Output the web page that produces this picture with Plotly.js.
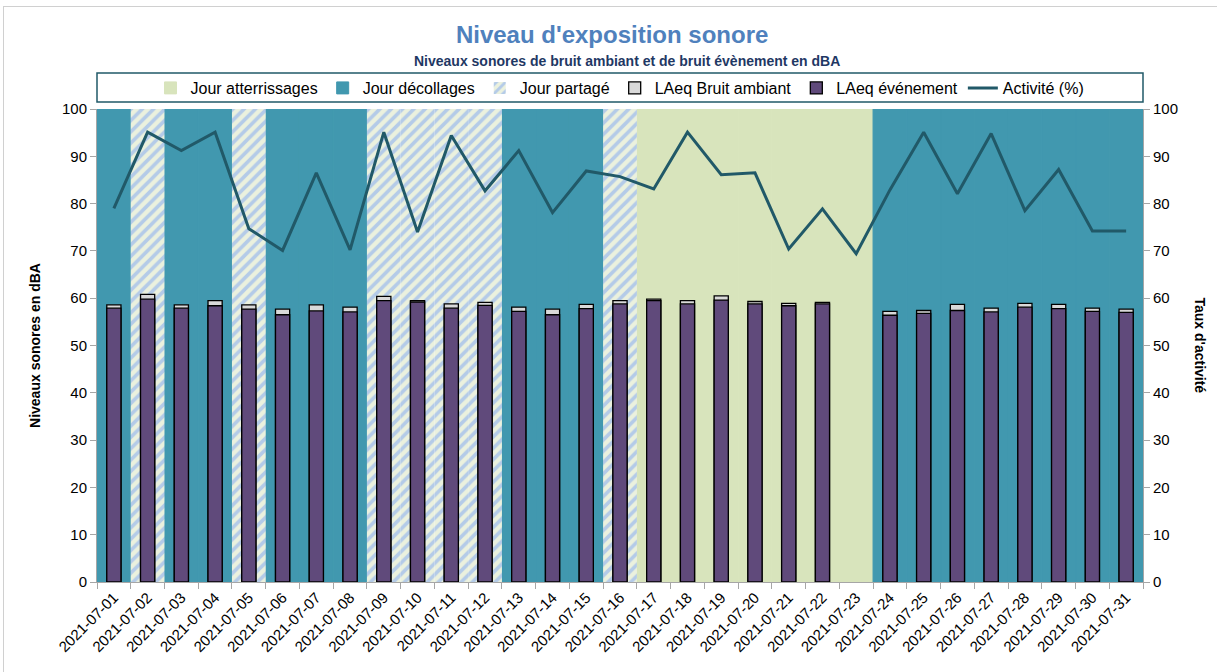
<!DOCTYPE html>
<html>
<head>
<meta charset="utf-8">
<script src="https://cdn.plot.ly/plotly-3.0.1.min.js"></script>
<style>
  html, body { margin: 0; padding: 0; background: #fff; }
  #chart { width: 1217px; height: 672px; }
  #frame { position: absolute; left: 3px; top: 6px; width: 1230px; height: 700px;
           border: 1px solid #d0d0d0; pointer-events: none; }
</style>
</head>
<body>
<div id="chart"></div>
<div id="frame"></div>
<script>
// ---- Data ----
const days = ["2021-07-01","2021-07-02","2021-07-03","2021-07-04","2021-07-05","2021-07-06","2021-07-07","2021-07-08",
  "2021-07-09","2021-07-10","2021-07-11","2021-07-12","2021-07-13","2021-07-14","2021-07-15","2021-07-16",
  "2021-07-17","2021-07-18","2021-07-19","2021-07-20","2021-07-21","2021-07-22","2021-07-23","2021-07-24",
  "2021-07-25","2021-07-26","2021-07-27","2021-07-28","2021-07-29","2021-07-30","2021-07-31"];
// D = Jour décollages, P = Jour partagé, A = Jour atterrissages
const dayType = ["D","P","D","D","P","D","D","D","P","P","P","P","D","D","D","P",
  "A","A","A","A","A","A","A","D","D","D","D","D","D","D","D"];
const laeqAmbiant = [58.6,60.8,58.6,59.5,58.6,57.7,58.6,58.1,60.4,59.5,58.8,59.1,58.1,57.7,58.7,59.5,
  59.8,59.5,60.5,59.3,58.9,59.1,null,57.2,57.4,58.7,57.9,58.9,58.7,57.9,57.7];
const laeqEvenement = [57.9,59.8,57.9,58.4,57.7,56.5,57.3,57.1,59.5,59.2,57.9,58.5,57.2,56.5,57.8,58.8,
  59.5,58.8,59.6,58.8,58.4,58.8,null,56.4,56.8,57.4,57.1,58.1,57.8,57.2,57.0];
const activite = [79.0,95.1,91.2,95.1,74.7,70.1,86.5,70.2,95.1,74.0,94.4,82.7,91.2,78.1,86.9,85.7,
  83.1,95.1,86.1,86.5,70.4,78.9,69.4,82.9,95.1,82.1,94.8,78.5,87.2,74.2,74.2];
const yMax = 100;

// ---- Styles ----
const C_TEAL = "#4198AF", C_GREEN = "#D8E4BC", C_PURPLE = "#604A7B", C_GREY = "#D9D9D9", C_LINE = "#215968";
const C_HATCH_BG = "#EBF1DE", C_HATCH_FG = "#B4CBE8";
const FONT = "Liberation Sans, Arial, sans-serif";

function bg(type) { return dayType.map(t => t === type ? yMax : null); }

const traces = [
  { type: "bar", name: "Jour atterrissages", x: days, y: bg("A"), width: 1,
    marker: { color: C_GREEN, line: { color: C_GREEN, width: 1 } }, hoverinfo: "skip" },
  { type: "bar", name: "Jour décollages", x: days, y: bg("D"), width: 1,
    marker: { color: C_TEAL, line: { color: C_TEAL, width: 1 } }, hoverinfo: "skip" },
  { type: "bar", name: "Jour partagé", x: days, y: bg("P"), width: 1,
    marker: { color: C_HATCH_BG, line: { color: C_HATCH_BG, width: 0 },
      pattern: { shape: "/", bgcolor: C_HATCH_BG, fgcolor: C_HATCH_FG, size: 8, solidity: 0.45, fillmode: "replace" } },
    hoverinfo: "skip" },
  { type: "bar", name: "LAeq Bruit ambiant", x: days, y: laeqAmbiant, width: 0.42,
    marker: { color: C_GREY, line: { color: "#000", width: 1.3 } } },
  { type: "bar", name: "LAeq événement", x: days, y: laeqEvenement, width: 0.42,
    marker: { color: C_PURPLE, line: { color: "#000", width: 1.3 } } },
  { type: "scatter", mode: "lines", name: "Activité (%)", x: days, y: activite, yaxis: "y2",
    line: { color: C_LINE, width: 3 } }
];

const layout = {
  width: 1217, height: 672,
  paper_bgcolor: "#fff", plot_bgcolor: "#fff",
  margin: { l: 97, r: 74, t: 109, b: 90 },
  barmode: "overlay",
  font: { family: FONT, size: 14, color: "#000" },
  showlegend: true,
  title: { text: "<b>Niveau d'exposition sonore</b>", font: { family: FONT, size: 24, color: "#4F81BD" },
           x: 0.503, xanchor: "center", xref: "container", y: 1 - 35/672, yanchor: "middle", yref: "container" },
  legend: { orientation: "h", x: 0.5, xanchor: "center", y: 1 + (109-88)/473, yanchor: "middle",
            font: { family: FONT, size: 16, color: "#000" }, bgcolor: "rgba(0,0,0,0)", borderwidth: 0,
            traceorder: "normal" },
  xaxis: { type: "category", tickangle: -45, tickson: "boundaries", ticks: "outside", ticklen: 6,
           tickcolor: "#A6A6A6", showline: true, linecolor: "#A6A6A6", linewidth: 1, showgrid: false,
           tickfont: { family: FONT, size: 15, color: "#000" }, range: [-0.5, 30.5] },
  yaxis: { range: [0, 100], dtick: 10, ticks: "outside", ticklen: 6, tickcolor: "#A6A6A6",
           showline: true, linecolor: "#A6A6A6", showgrid: false, zeroline: false,
           tickfont: { family: FONT, size: 15, color: "#000" },
           title: { text: "<b>Niveaux sonores en dBA</b>", font: { family: FONT, size: 14, color: "#000" }, standoff: 18 } },
  yaxis2: { range: [0, 100], dtick: 10, overlaying: "y", side: "right", ticks: "outside", ticklen: 6,
            tickcolor: "#A6A6A6", showline: true, linecolor: "#A6A6A6", showgrid: false, zeroline: false,
            tickfont: { family: FONT, size: 15, color: "#000" } },
  annotations: [
    { text: "<b>Niveaux sonores de bruit ambiant et de bruit évènement en dBA</b>", xref: "paper", yref: "paper",
      x: (627-97)/1046, y: 1 + (109-61)/473, xanchor: "center", yanchor: "middle", showarrow: false,
      font: { family: FONT, size: 14, color: "#1F3864" } },
    { text: "<b>Taux d'activité</b>", xref: "paper", yref: "paper", x: 1 + (1200-1143)/1046, y: 0.5,
      xanchor: "center", yanchor: "middle", showarrow: false, textangle: 90,
      font: { family: FONT, size: 14, color: "#000" } }
  ],
  shapes: [
    { type: "rect", xref: "paper", yref: "paper", x0: 0, x1: 1, y0: 1 + (109-102)/473, y1: 1 + (109-73)/473,
      line: { color: C_LINE, width: 1.5 }, fillcolor: "rgba(0,0,0,0)", layer: "above" }
  ]
};

Plotly.newPlot("chart", traces, layout, { staticPlot: true, displayModeBar: false });
</script>
</body>
</html>
